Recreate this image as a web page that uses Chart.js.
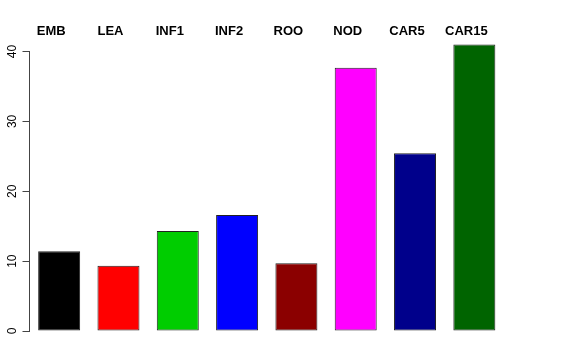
<!DOCTYPE html>
<html>
<head>
<meta charset="utf-8">
<script src="https://cdn.jsdelivr.net/npm/chart.js@4/dist/chart.umd.min.js"></script>
<style>
  html, body { margin: 0; padding: 0; background: #fff; }
  #wrap { width: 576px; height: 360px; }
</style>
</head>
<body>
<div id="wrap"><canvas id="chart" width="576" height="360"></canvas></div>
<script>
let categories = ['EMB', 'LEA', 'INF1', 'INF2', 'ROO', 'NOD', 'CAR5', 'CAR15']
let values = [11.4, 9.35, 14.3, 16.6, 9.7, 37.7, 25.45, 41.0]
let barColors = ['#000000', '#ff0000', '#00cd00', '#0000ff', '#8b0000', '#ff00ff', '#00008b', '#006400']
let yTicks = [0, 10, 20, 30, 40]

let ctx = document.querySelector('#chart')

let graphData = {
    type: 'bar',
    data: {
        labels: categories,
        datasets: [{
            data: values,
            backgroundColor: barColors,
            borderColor: '#222222',
            borderWidth: 1,
            borderSkipped: false,
            barPercentage: 0.708,
            categoryPercentage: 1,
            clip: false
        }]
    },
    options: {
        responsive: false,
        animation: false,
        layout: { padding: { top: 12, right: 72, bottom: 29, left: 0 } },
        plugins: { legend: { display: false }, tooltip: { enabled: false } },
        scales: {
            x: {
                position: 'top',
                grid: { display: false, drawTicks: false },
                border: { display: false },
                ticks: {
                    color: '#000',
                    padding: 12,
                    labelOffset: -8,
                    font: { family: 'Liberation Sans', size: 13, weight: 'bold' }
                }
            },
            y: {
                min: 0,
                max: 40,
                afterBuildTicks: (s) => { s.ticks = yTicks.map(v => ({ value: v })) },
                afterFit: (s) => { s.width = 29.5 },
                grid: { drawOnChartArea: false, tickLength: 7, color: '#444', tickColor: '#444' },
                border: { display: true, color: '#444', width: 1 },
                ticks: {
                    color: '#000',
                    padding: 3,
                    minRotation: 90,
                    maxRotation: 90,
                    crossAlign: 'center',
                    font: { family: 'Liberation Sans', size: 12 }
                }
            }
        }
    }
}

let chart = new Chart(ctx, graphData)
</script>
</body>
</html>
